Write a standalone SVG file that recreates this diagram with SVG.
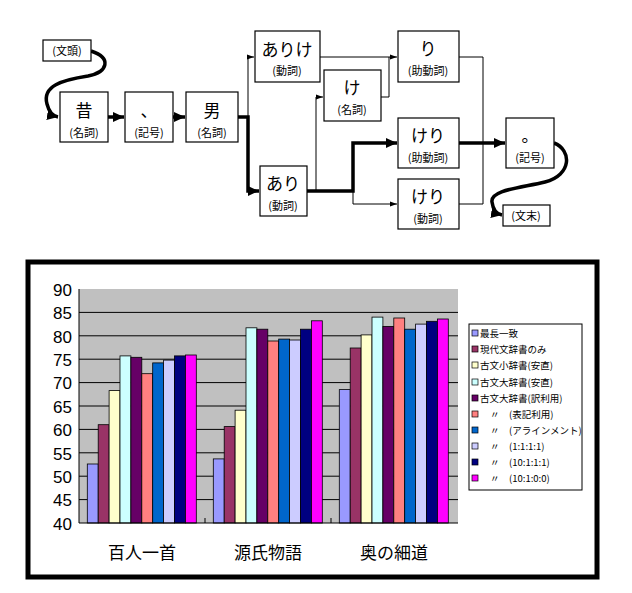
<svg xmlns="http://www.w3.org/2000/svg" width="632" height="593" viewBox="0 0 632 593">
<style>
.n{fill:#fff;stroke:#000;stroke-width:1.2}
.big{font-family:"Noto Sans CJK JP",sans-serif;font-size:17px;text-anchor:middle}
.sm{font-family:"Noto Sans CJK JP",sans-serif;font-size:11px;text-anchor:middle}
.th{fill:none;stroke:#000;stroke-width:1}
.tk{fill:none;stroke:#000;stroke-width:3.5}
.ax{font-family:"Liberation Sans",sans-serif;font-size:17px;text-anchor:end}
.cat{font-family:"Noto Sans CJK JP",sans-serif;font-size:17px;text-anchor:middle}
.lg{font-family:"Noto Sans CJK JP",sans-serif;font-size:9.5px}
</style>
<defs>
<marker id="as" markerWidth="8" markerHeight="8" refX="7" refY="4" orient="auto" markerUnits="userSpaceOnUse"><path d="M0,1.5 L7,4 L0,6.5z"/></marker>
<marker id="ab" markerWidth="12" markerHeight="12" refX="11" refY="6" orient="auto" markerUnits="userSpaceOnUse"><path d="M0,1 L11,6 L0,11z"/></marker>
</defs>
<rect width="632" height="593" fill="#fff"/>
<g id="connectors">
<path class="tk" d="M91,51 C112,58 108,72 88,76 C62,80 42,86 47,104 C49,112 52,116 58,117" marker-end="url(#ab)"/>
<path class="tk" d="M108,117 H124" marker-end="url(#ab)"/>
<path class="tk" d="M173,117 H185" marker-end="url(#ab)"/>
<path class="tk" d="M238,117 H248 V191 H259" marker-end="url(#ab)"/>
<path class="th" d="M248,117 V57 H254" marker-end="url(#as)"/>
<path class="th" d="M320,57 H397" marker-end="url(#as)"/>
<path class="th" d="M381,97 H389 V57"/>
<path class="tk" d="M307,191 H353 V143 H397" marker-end="url(#ab)"/>
<path class="th" d="M316,191 V97 H323" marker-end="url(#as)"/>
<path class="th" d="M353,191 V204 H397" marker-end="url(#as)"/>
<path class="th" d="M459,57 H483 V204 H459"/>
<path class="tk" d="M459,143 H505" marker-end="url(#ab)"/>
<path class="tk" d="M554,143 C572,150 572,175 545,182 C520,188 490,190 492,202 C493,210 496,214 502,215" marker-end="url(#ab)"/>
</g>
<g id="n-bunto"><rect class="n" x="43" y="40" width="48" height="21"/><text class="sm" x="67" y="55">(文頭)</text></g>
<g id="n-mukashi"><rect class="n" x="60" y="92" width="48" height="50"/><text class="big" x="84" y="117">昔</text><text class="sm" x="84" y="137">(名詞)</text></g>
<g id="n-ten"><rect class="n" x="125" y="92" width="48" height="50"/><text class="big" x="149" y="117">、</text><text class="sm" x="149" y="137">(記号)</text></g>
<g id="n-otoko"><rect class="n" x="186" y="92" width="52" height="50"/><text class="big" x="212" y="117">男</text><text class="sm" x="212" y="137">(名詞)</text></g>
<g id="n-arike"><rect class="n" x="255" y="31" width="65" height="51"/><text class="big" x="287" y="56">ありけ</text><text class="sm" x="287" y="75">(動詞)</text></g>
<g id="n-ari"><rect class="n" x="260" y="166" width="47" height="50"/><text class="big" x="283" y="190">あり</text><text class="sm" x="283" y="210">(動詞)</text></g>
<g id="n-ke"><rect class="n" x="324" y="70" width="57" height="51"/><text class="big" x="352" y="94">け</text><text class="sm" x="352" y="114">(名詞)</text></g>
<g id="n-ri"><rect class="n" x="398" y="31" width="61" height="51"/><text class="big" x="428" y="55">り</text><text class="sm" x="428" y="75">(助動詞)</text></g>
<g id="n-keri1"><rect class="n" x="398" y="118" width="61" height="50"/><text class="big" x="428" y="142">けり</text><text class="sm" x="428" y="162">(助動詞)</text></g>
<g id="n-keri2"><rect class="n" x="398" y="179" width="61" height="50"/><text class="big" x="428" y="203">けり</text><text class="sm" x="428" y="223">(動詞)</text></g>
<g id="n-maru"><rect class="n" x="506" y="118" width="48" height="50"/><text class="big" x="530" y="142">。</text><text class="sm" x="530" y="162">(記号)</text></g>
<g id="n-bunmatsu"><rect class="n" x="503" y="205" width="47" height="21"/><text class="sm" x="526" y="220">(文末)</text></g>
<g id="chart">
<rect x="28" y="262" width="569" height="315" fill="#fff" stroke="#000" stroke-width="5"/>
<rect x="79" y="289" width="379" height="234" fill="#c0c0c0"/>
<g stroke="#000" stroke-width="1">
<line x1="79" y1="312.4" x2="458" y2="312.4"/><line x1="79" y1="335.8" x2="458" y2="335.8"/><line x1="79" y1="359.2" x2="458" y2="359.2"/><line x1="79" y1="382.6" x2="458" y2="382.6"/><line x1="79" y1="406" x2="458" y2="406"/><line x1="79" y1="429.4" x2="458" y2="429.4"/><line x1="79" y1="452.8" x2="458" y2="452.8"/><line x1="79" y1="476.2" x2="458" y2="476.2"/><line x1="79" y1="499.6" x2="458" y2="499.6"/>
</g>
<g stroke="#000" stroke-width="0.8">
<rect x="87.3" y="464" width="10.9" height="59" fill="#9999FF"/>
<rect x="98.2" y="424.7" width="10.9" height="98.3" fill="#993366"/>
<rect x="109.1" y="390.6" width="10.9" height="132.4" fill="#FFFFCC"/>
<rect x="120" y="355.9" width="10.9" height="167.1" fill="#CCFFFF"/>
<rect x="130.9" y="357.3" width="10.9" height="165.7" fill="#660066"/>
<rect x="141.8" y="373.7" width="10.9" height="149.3" fill="#FF8080"/>
<rect x="152.7" y="362.9" width="10.9" height="160.1" fill="#0066CC"/>
<rect x="163.6" y="360.1" width="10.9" height="162.9" fill="#CCCCFF"/>
<rect x="174.5" y="355.9" width="10.9" height="167.1" fill="#000080"/>
<rect x="185.4" y="355" width="10.9" height="168" fill="#FF00FF"/>
<rect x="213.3" y="458.9" width="10.9" height="64.1" fill="#9999FF"/>
<rect x="224.2" y="426.6" width="10.9" height="96.4" fill="#993366"/>
<rect x="235.1" y="410.2" width="10.9" height="112.8" fill="#FFFFCC"/>
<rect x="246" y="327.8" width="10.9" height="195.2" fill="#CCFFFF"/>
<rect x="256.9" y="329.2" width="10.9" height="193.8" fill="#660066"/>
<rect x="267.8" y="341" width="10.9" height="182" fill="#FF8080"/>
<rect x="278.7" y="339.1" width="10.9" height="183.9" fill="#0066CC"/>
<rect x="289.6" y="340" width="10.9" height="183" fill="#CCCCFF"/>
<rect x="300.5" y="329.2" width="10.9" height="193.8" fill="#000080"/>
<rect x="311.4" y="320.8" width="10.9" height="202.2" fill="#FF00FF"/>
<rect x="339.3" y="389.6" width="10.9" height="133.4" fill="#9999FF"/>
<rect x="350.2" y="348" width="10.9" height="175" fill="#993366"/>
<rect x="361.1" y="334.9" width="10.9" height="188.1" fill="#FFFFCC"/>
<rect x="372" y="317.1" width="10.9" height="205.9" fill="#CCFFFF"/>
<rect x="382.9" y="326.4" width="10.9" height="196.6" fill="#660066"/>
<rect x="393.8" y="318" width="10.9" height="205" fill="#FF8080"/>
<rect x="404.7" y="329.2" width="10.9" height="193.8" fill="#0066CC"/>
<rect x="415.6" y="324.1" width="10.9" height="198.9" fill="#CCCCFF"/>
<rect x="426.5" y="321.3" width="10.9" height="201.7" fill="#000080"/>
<rect x="437.4" y="319" width="10.9" height="204" fill="#FF00FF"/>
</g>
<path d="M79,289 V523 H458 M205,523 V518 M331,523 V518" fill="none" stroke="#000" stroke-width="1"/>
<g class="ax">
<text x="72" y="296">90</text><text x="72" y="319">85</text><text x="72" y="343">80</text><text x="72" y="366">75</text><text x="72" y="389">70</text><text x="72" y="413">65</text><text x="72" y="436">60</text><text x="72" y="460">55</text><text x="72" y="483">50</text><text x="72" y="506">45</text><text x="72" y="530">40</text>
</g>
<text class="cat" x="142" y="559">百人一首</text>
<text class="cat" x="268" y="559">源氏物語</text>
<text class="cat" x="394" y="559">奥の細道</text>
<g id="legend">
<rect x="469" y="324" width="113" height="166" fill="#fff" stroke="#000" stroke-width="1"/>
<g stroke="#000" stroke-width="0.7">
<rect x="472" y="330" width="6" height="6" fill="#9999FF"/>
<rect x="472" y="346" width="6" height="6" fill="#993366"/>
<rect x="472" y="362" width="6" height="6" fill="#FFFFCC"/>
<rect x="472" y="379" width="6" height="6" fill="#CCFFFF"/>
<rect x="472" y="395" width="6" height="6" fill="#660066"/>
<rect x="472" y="411" width="6" height="6" fill="#FF8080"/>
<rect x="472" y="427" width="6" height="6" fill="#0066CC"/>
<rect x="472" y="443" width="6" height="6" fill="#CCCCFF"/>
<rect x="472" y="459" width="6" height="6" fill="#000080"/>
<rect x="472" y="475" width="6" height="6" fill="#FF00FF"/>
</g>
<g class="lg">
<text x="480" y="337">最長一致</text>
<text x="480" y="353">現代文辞書のみ</text>
<text x="480" y="369">古文小辞書(安直)</text>
<text x="480" y="386">古文大辞書(安直)</text>
<text x="480" y="402">古文大辞書(訳利用)</text>
<text x="490" y="418">〃　(表記利用)</text>
<text x="490" y="434">〃　(アラインメント)</text>
<text x="490" y="450">〃　(1:1:1:1)</text>
<text x="490" y="466">〃　(10:1:1:1)</text>
<text x="490" y="482">〃　(10:1:0:0)</text>
</g>
</g>
</g>
</svg>
